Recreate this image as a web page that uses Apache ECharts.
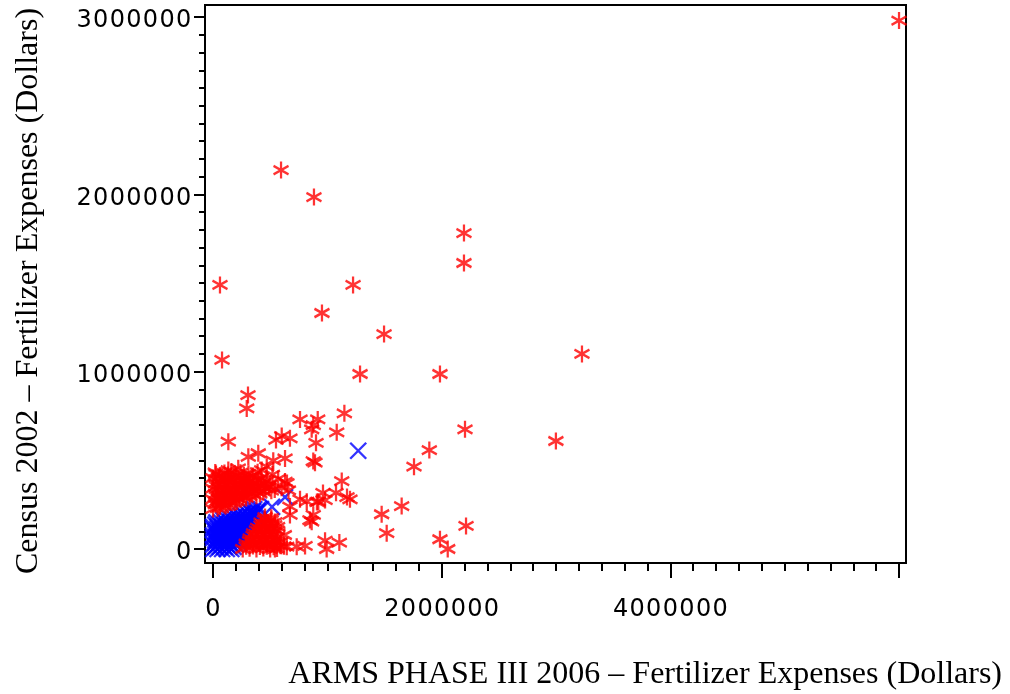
<!DOCTYPE html>
<html>
<head>
<meta charset="utf-8">
<script src="https://cdn.jsdelivr.net/npm/echarts@6/dist/echarts.min.js"></script>
<style>
  html, body { margin: 0; padding: 0; background: #fff; }
  #chart { width: 1010px; height: 694px; }
</style>
</head>
<body>
<div id="chart"></div>
<script>
// Fertilizer expenses per farm: ARMS Phase III 2006 (x) against Census 2002 (y), dollars.

// Axis tick values
const xMajorTicks = [0, 2000000, 4000000, 6000000];
const xLabelTicks = [0, 2000000, 4000000];
const yMajorTicks = [0, 1000000, 2000000, 3000000];
const xMinorStep = 200000;
const yMinorStep = 100000;

// Farms whose two reports differ widely (red asterisks), [ARMS, Census]
const redOutliers = [
  [6000000, 2980000], [595000, 2137000], [883000, 1985000], [2195000, 1782000],
  [2195000, 1613000], [61000, 1489000], [1225000, 1489000], [953000, 1331000],
  [1496000, 1212000], [79000, 1066000], [1286000, 987000], [1985000, 987000],
  [3227000, 1100000], [2999000, 609000], [306000, 868000], [295000, 793000],
  [761000, 731000], [916000, 731000], [1149000, 765000], [877000, 699000],
  [863000, 675000], [1082000, 658000], [134000, 605000], [551000, 615000],
  [601000, 637000], [673000, 624000], [901000, 599000], [2204000, 675000],
  [1892000, 558000], [1758000, 464000], [309000, 520000], [396000, 540000],
  [527000, 498000], [630000, 511000], [877000, 496000], [892000, 487000],
  [26000, 423000], [134000, 445000], [221000, 455000], [426000, 445000],
  [470000, 464000], [630000, 380000], [1126000, 383000], [1076000, 317000],
  [1198000, 280000], [761000, 280000], [820000, 267000], [921000, 267000],
  [980000, 276000], [673000, 239000], [673000, 192000], [877000, 192000],
  [863000, 154000], [1475000, 196000], [1650000, 242000], [1519000, 89000],
  [2213000, 130000], [1985000, 55000], [2053000, 0], [624000, 79000],
  [980000, 47000], [994000, 0], [1105000, 36000], [805000, 17000],
  [732000, 13000], [645000, 13000], [542000, 0], [647000, 372000],
  [962000, 316000], [909000, 265000], [1172000, 293000], [848000, 163000]
];

// Dense group where the Census figure is well above ARMS
const redUpperCluster = [
  [20000, 432000], [100000, 428000], [160000, 436000], [240000, 430000], [310000, 425000], [390000, 433000],
  [60000, 415000], [130000, 417000], [200000, 413000], [270000, 416000], [350000, 412000],
  [0, 400000], [50000, 404000], [130000, 398000], [200000, 402000], [270000, 396000], [340000, 405000], [420000, 399000],
  [50000, 385000], [110000, 387000], [180000, 383000], [250000, 386000], [320000, 382000], [400000, 388000], [470000, 384000],
  [20000, 370000], [80000, 366000], [150000, 373000], [220000, 368000], [290000, 372000], [360000, 367000], [440000, 371000], [500000, 365000],
  [30000, 355000], [80000, 352000], [140000, 356000], [210000, 353000], [280000, 357000], [350000, 354000], [420000, 356000], [490000, 351000],
  [0, 340000], [50000, 343000], [110000, 337000], [180000, 341000], [250000, 338000], [320000, 344000], [390000, 339000], [460000, 342000], [540000, 336000],
  [50000, 325000], [110000, 327000], [170000, 323000], [240000, 326000], [300000, 322000], [370000, 328000], [440000, 324000], [510000, 329000],
  [20000, 310000], [80000, 313000], [140000, 308000], [210000, 311000], [270000, 306000], [340000, 314000], [410000, 312000],
  [30000, 295000], [80000, 297000], [140000, 293000], [200000, 296000], [260000, 294000], [320000, 298000], [380000, 300000],
  [0, 280000], [50000, 283000], [110000, 278000], [170000, 285000], [230000, 282000], [290000, 288000],
  [30000, 265000], [90000, 267000], [150000, 264000], [210000, 268000],
  [20000, 252000], [70000, 256000], [130000, 250000], [190000, 262000],
  [60000, 240000], [110000, 242000],
  [0, 225000], [40000, 230000],
  [600000, 345000], [570000, 395000], [520000, 420000], [660000, 330000]
];

// Dense group where ARMS is well above the Census figure
const redLowerCluster = [
  [260000, 0], [320000, 4000], [380000, 0], [440000, 6000], [500000, 0], [560000, 3000], [620000, 15000],
  [290000, 15000], [350000, 17000], [410000, 14000], [470000, 16000], [530000, 13000], [590000, 18000],
  [290000, 30000], [350000, 28000], [410000, 33000], [470000, 30000], [530000, 27000], [590000, 40000],
  [320000, 45000], [380000, 46000], [440000, 44000], [500000, 47000], [560000, 43000],
  [325000, 60000], [385000, 62000], [445000, 58000], [505000, 61000], [560000, 64000],
  [350000, 75000], [410000, 76000], [470000, 74000], [530000, 77000],
  [355000, 90000], [415000, 92000], [475000, 88000], [535000, 91000],
  [380000, 105000], [440000, 106000], [500000, 104000], [560000, 107000],
  [390000, 120000], [450000, 118000], [510000, 122000], [565000, 125000],
  [420000, 135000], [480000, 136000], [540000, 134000],
  [420000, 150000], [480000, 148000], [540000, 152000],
  [450000, 165000], [510000, 163000],
  [455000, 180000], [510000, 176000]
];

// Farms whose two reports broadly agree (blue crosses)
const bluePoints = [
  [0, 0], [40000, 0], [80000, 0], [120000, 0], [160000, 0],
  [20000, 12000], [60000, 12000], [100000, 12000], [140000, 12000], [180000, 12000],
  [0, 25000], [40000, 25000], [80000, 25000], [120000, 25000], [160000, 25000], [200000, 25000],
  [20000, 37000], [60000, 37000], [100000, 37000], [140000, 37000], [180000, 37000], [220000, 37000],
  [20000, 50000], [60000, 50000], [100000, 50000], [140000, 50000], [180000, 50000], [220000, 50000],
  [0, 62000], [40000, 62000], [80000, 62000], [120000, 62000], [160000, 62000], [200000, 62000], [240000, 62000],
  [0, 75000], [40000, 75000], [80000, 75000], [120000, 75000], [160000, 75000], [200000, 75000], [240000, 75000],
  [20000, 87000], [60000, 87000], [100000, 87000], [140000, 87000], [180000, 87000], [220000, 87000], [260000, 87000],
  [20000, 100000], [60000, 100000], [100000, 100000], [140000, 100000], [180000, 100000], [220000, 100000], [260000, 100000],
  [0, 112000], [40000, 112000], [80000, 112000], [120000, 112000], [160000, 112000], [200000, 112000], [240000, 112000], [280000, 112000],
  [0, 125000], [40000, 125000], [80000, 125000], [120000, 125000], [160000, 125000], [200000, 125000], [240000, 125000], [280000, 125000],
  [20000, 137000], [60000, 137000], [100000, 137000], [140000, 137000], [180000, 137000], [220000, 137000], [260000, 137000], [300000, 137000],
  [30000, 150000], [70000, 150000], [110000, 150000], [150000, 150000], [190000, 150000], [230000, 150000], [270000, 150000], [310000, 150000],
  [90000, 162000], [130000, 162000], [170000, 162000], [210000, 162000], [250000, 162000], [290000, 162000], [330000, 162000],
  [140000, 175000], [180000, 175000], [220000, 175000], [260000, 175000], [300000, 175000], [340000, 175000],
  [200000, 187000], [240000, 187000], [280000, 187000], [320000, 187000], [360000, 187000],
  [260000, 200000], [300000, 200000], [340000, 200000], [370000, 200000],
  [320000, 212000], [350000, 212000], [390000, 212000],
  [360000, 225000], [400000, 225000], [420000, 225000],
  [516000, 237000], [630000, 293000], [1270000, 554000]
];

const redPoints = redOutliers.concat(redUpperCluster, redLowerCluster);

function steps(from, to, step) {
  const out = [];
  for (let v = from; v <= to; v += step) out.push(v);
  return out;
}

const asterisk = 'path://M0,0L0,20M-8.66,5L8.66,15M-8.66,15L8.66,5';
const cross = 'path://M0,0L20,20M0,20L20,0';

const numFont = 'DejaVu Sans';
const titleFont = 'Liberation Serif';

// Spread each digit into a fixed-width cell to give the wide numeral look
function spreadDigits(v) {
  return String(v).split('').map(c => '{d|' + c + '}').join('');
}
const digitRich = {
  d: { width: 16.6, align: 'center', fontFamily: numFont, fontSize: 24, color: '#000' }
};

const X_MIN = -70000, X_MAX = 6061000;
const Y_MIN = -79000, Y_MAX = 3068000;

const chart = echarts.init(document.getElementById('chart'), null, { renderer: 'canvas' });

chart.setOption({
  animation: false,
  backgroundColor: '#fff',
  title: {
    text: 'ARMS PHASE III 2006 \u2013 Fertilizer Expenses (Dollars)',
    right: 3,
    top: 654,
    textStyle: { fontFamily: titleFont, fontSize: 32, fontWeight: 'normal', color: '#000' }
  },
  grid: {
    left: 205, right: 104, top: 5, bottom: 131,
    outerBoundsMode: 'none',
    show: true, borderColor: '#000', borderWidth: 2, backgroundColor: 'transparent'
  },
  xAxis: [
    {
      type: 'value', min: X_MIN, max: X_MAX, position: 'bottom',
      splitLine: { show: false },
      axisLine: { show: true, onZero: false, lineStyle: { color: '#000', width: 2 } },
      axisTick: { show: true, length: 15, customValues: xMajorTicks, lineStyle: { color: '#000', width: 2 } },
      axisLabel: {
        show: true, margin: 35, customValues: xLabelTicks,
        formatter: spreadDigits, rich: digitRich
      }
    },
    {
      type: 'value', min: X_MIN, max: X_MAX, position: 'bottom',
      splitLine: { show: false },
      axisLine: { show: false, onZero: false },
      axisTick: { show: true, length: 8, customValues: steps(0, 6000000, xMinorStep), lineStyle: { color: '#000', width: 2 } },
      axisLabel: { show: false }
    }
  ],
  yAxis: [
    {
      type: 'value', min: Y_MIN, max: Y_MAX, position: 'left',
      name: 'Census 2002 \u2013 Fertilizer Expenses (Dollars)',
      nameLocation: 'middle', nameRotate: 90, nameGap: 160,
      nameTextStyle: { fontFamily: titleFont, fontSize: 32, color: '#000', padding: [0, 14, 0, 0] },
      splitLine: { show: false },
      axisLine: { show: true, onZero: false, lineStyle: { color: '#000', width: 2 } },
      axisTick: { show: true, length: 11, customValues: yMajorTicks, lineStyle: { color: '#000', width: 2 } },
      axisLabel: {
        show: true, margin: 13, customValues: yMajorTicks, padding: [8, 0, 0, 0],
        formatter: spreadDigits, rich: digitRich
      }
    },
    {
      type: 'value', min: Y_MIN, max: Y_MAX, position: 'left',
      splitLine: { show: false },
      axisLine: { show: false, onZero: false },
      axisTick: { show: true, length: 6, customValues: steps(0, 3000000, yMinorStep), lineStyle: { color: '#000', width: 2 } },
      axisLabel: { show: false }
    }
  ],
  series: [
    {
      name: 'Agree',
      type: 'scatter',
      data: bluePoints,
      symbol: cross,
      symbolSize: [16, 16],
      itemStyle: { color: 'rgba(0,0,0,0)', borderColor: '#0000ff', borderWidth: 2.4 },
      emphasis: { disabled: true }
    },
    {
      name: 'Differ',
      type: 'scatter',
      data: redPoints,
      symbol: asterisk,
      symbolSize: [15, 17],
      itemStyle: { color: 'rgba(0,0,0,0)', borderColor: '#ff0000', borderWidth: 2.4 },
      emphasis: { disabled: true }
    }
  ]
});
</script>
</body>
</html>
